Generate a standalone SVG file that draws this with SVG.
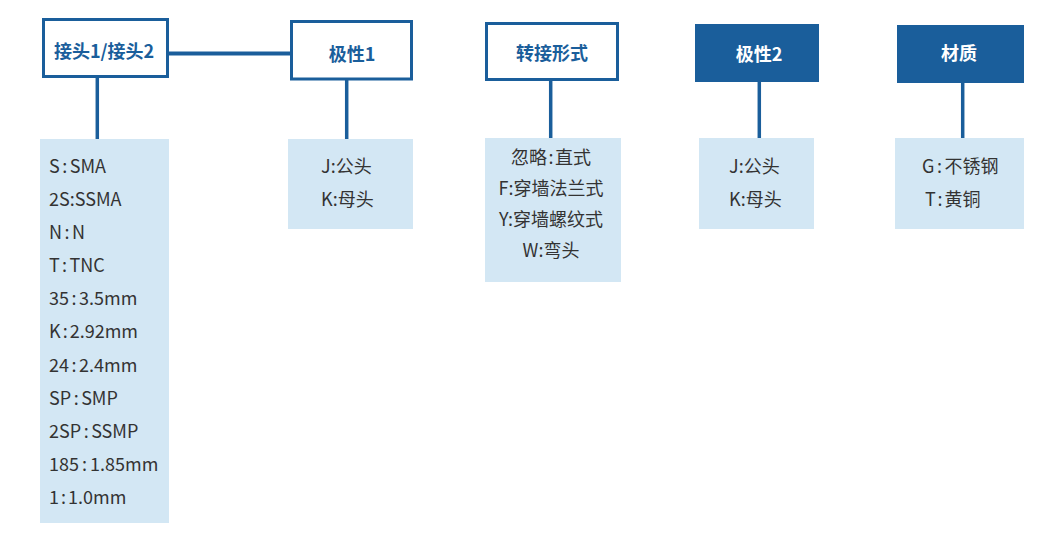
<svg xmlns="http://www.w3.org/2000/svg" width="1058" height="548" viewBox="0 0 1058 548">
<style>
.hb{fill:#fff;stroke:#1a5e9b;stroke-width:3}
.hf{fill:#1a5e9b}
.ht{font-family:"Noto Sans CJK SC","Noto Sans",sans-serif;font-size:18px;font-weight:bold;fill:#1a5e9b;text-anchor:middle}
.hw{fill:#fff}
.lb{fill:#d3e7f4}
.lt{font-family:"Noto Sans CJK SC","Noto Sans",sans-serif;font-size:18px;fill:#333}
.c{stroke:#1a5e9b;stroke-width:3.5;fill:none}
</style>
<rect width="1058" height="548" fill="#fff"/>
<g id="connectors">
<line class="c" x1="169" y1="53.5" x2="290" y2="53.5" style="stroke-width:4"/>
<line class="c" x1="97.3" y1="78" x2="97.3" y2="139"/>
<line class="c" x1="346.7" y1="80" x2="346.7" y2="139"/>
<line class="c" x1="550.7" y1="81" x2="550.7" y2="138"/>
<line class="c" x1="759.3" y1="82" x2="759.3" y2="138"/>
<line class="c" x1="962.7" y1="83" x2="962.7" y2="138"/>
</g>
<g id="node-connector">
<rect class="hb" x="43.5" y="19.5" width="124" height="57"/>
<text class="ht" x="104" y="58">接头1/接头2</text>
</g>
<g id="node-polarity1">
<rect class="hb" x="291.5" y="21.5" width="120" height="57.5"/>
<text class="ht" x="352" y="61">极性1</text>
</g>
<g id="node-adapter">
<rect class="hb" x="486.5" y="23.5" width="131" height="56"/>
<text class="ht" x="552" y="60">转接形式</text>
</g>
<g id="node-polarity2">
<rect class="hf" x="695" y="24" width="124" height="58"/>
<text class="ht hw" x="759" y="61">极性2</text>
</g>
<g id="node-material">
<rect class="hf" x="897" y="25" width="127" height="58"/>
<text class="ht hw" x="959" y="60">材质</text>
</g>
<g id="list-connector">
<rect class="lb" x="40" y="139" width="129" height="384"/>
<text class="lt" x="49" y="172.7">S<tspan dx="2.5">:</tspan><tspan dx="2.5">SMA</tspan></text>
<text class="lt" x="49" y="205.8">2S:SSMA</text>
<text class="lt" x="49" y="239">N<tspan dx="2.5">:</tspan><tspan dx="2.5">N</tspan></text>
<text class="lt" x="49" y="272.1">T<tspan dx="2.5">:</tspan><tspan dx="2.5">TNC</tspan></text>
<text class="lt" x="49" y="305.3">35<tspan dx="2.5">:</tspan><tspan dx="2.5">3.5mm</tspan></text>
<text class="lt" x="49" y="338.4">K<tspan dx="2">:</tspan><tspan dx="2">2.92mm</tspan></text>
<text class="lt" x="49" y="371.6">24<tspan dx="2.5">:</tspan><tspan dx="2.5">2.4mm</tspan></text>
<text class="lt" x="49" y="404.7">SP<tspan dx="2.5">:</tspan><tspan dx="2.5">SMP</tspan></text>
<text class="lt" x="49" y="437.9">2SP<tspan dx="2.5">:</tspan><tspan dx="2.5">SSMP</tspan></text>
<text class="lt" x="49" y="471">185<tspan dx="3">:</tspan><tspan dx="3">1.85mm</tspan></text>
<text class="lt" x="49" y="504.2">1<tspan dx="2">:</tspan><tspan dx="2">1.0mm</tspan></text>
</g>
<g id="list-polarity1">
<rect class="lb" x="288" y="139" width="125" height="90"/>
<text class="lt" x="321" y="172.5">J:公头</text>
<text class="lt" x="321" y="206">K:母头</text>
</g>
<g id="list-adapter">
<rect class="lb" x="485" y="138" width="136" height="144"/>
<text class="lt" x="551" y="164" text-anchor="middle">忽略<tspan dx="1.5">:</tspan><tspan dx="1.5">直式</tspan></text>
<text class="lt" x="551" y="195" text-anchor="middle">F:穿墙法兰式</text>
<text class="lt" x="551" y="226" text-anchor="middle">Y:穿墙螺纹式</text>
<text class="lt" x="551" y="257" text-anchor="middle">W:弯头</text>
</g>
<g id="list-polarity2">
<rect class="lb" x="699" y="138" width="115" height="91"/>
<text class="lt" x="729" y="172.5">J:公头</text>
<text class="lt" x="729" y="206">K:母头</text>
</g>
<g id="list-material">
<rect class="lb" x="895" y="138" width="129" height="91"/>
<text class="lt" x="922" y="172.5">G<tspan dx="2.5">:</tspan><tspan dx="2.5">不锈钢</tspan></text>
<text class="lt" x="925" y="206">T<tspan dx="2">:</tspan><tspan dx="2">黄铜</tspan></text>
</g>
</svg>
